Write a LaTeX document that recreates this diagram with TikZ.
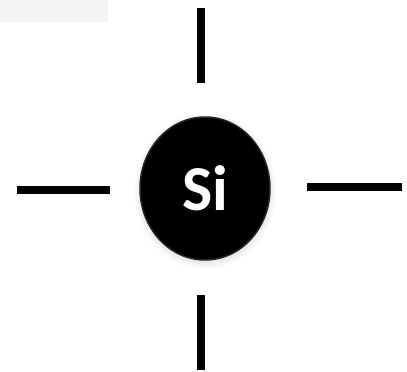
\documentclass[tikz,border=0pt]{standalone}
\usepackage{fontspec}
\setmainfont{Carlito}
\usetikzlibrary{shadows,shapes.geometric}
\begin{document}
\begin{tikzpicture}[x=1pt,y=-1pt,
  bond/.style={line width=8pt, black},
  atom/.style={ellipse, fill=black, minimum width=130pt, minimum height=143pt, inner sep=0pt,
    draw=black!85, line width=1.5pt, circular drop shadow={shadow xshift=0pt, shadow yshift=-2pt, opacity=0.25},
    text=white, font=\bfseries\fontsize{64}{64}\selectfont}]
\useasboundingbox (0,0) rectangle (407,372);
\fill[black!4] (0,0) rectangle (108,22);
\node[atom] (si) at (205,188.5) {Si};
\coordinate (t1) at (201,8); \coordinate (t2) at (201,83);
\coordinate (b1) at (201,295); \coordinate (b2) at (201,370);
\coordinate (l1) at (17,190); \coordinate (l2) at (110,190);
\coordinate (r1) at (307,187); \coordinate (r2) at (402,187);
\draw[bond] (t1) -- (t2);
\draw[bond] (b1) -- (b2);
\draw[bond] (l1) -- (l2);
\draw[bond] (r1) -- (r2);
\end{tikzpicture}
\end{document}
